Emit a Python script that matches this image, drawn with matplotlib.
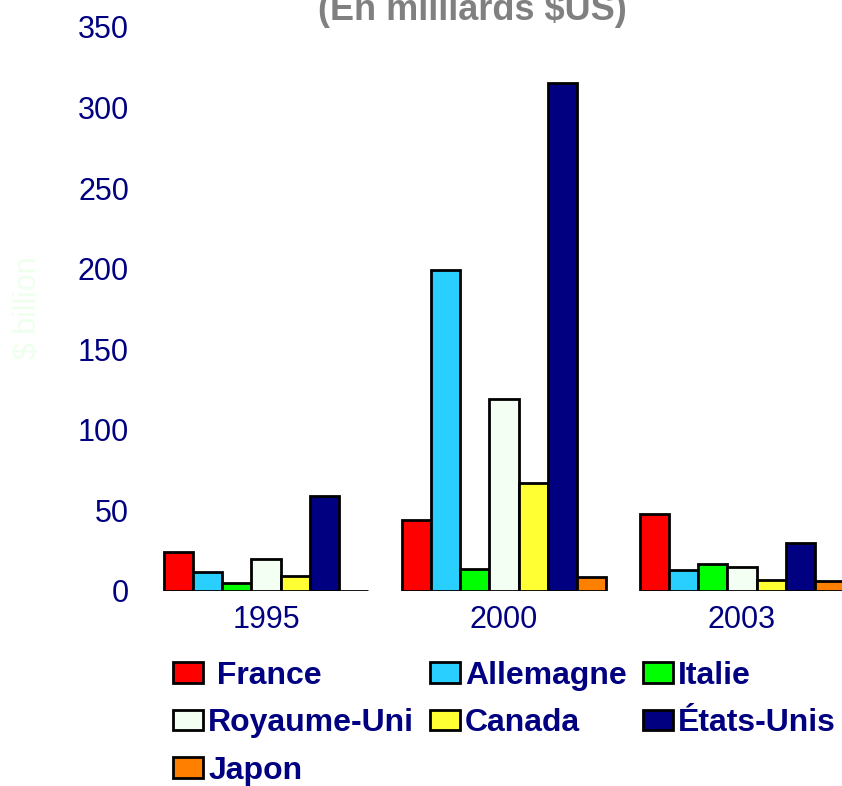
import matplotlib
matplotlib.use("Agg")
import matplotlib.pyplot as plt
import numpy as np
from matplotlib.patches import Patch

plt.rcParams['font.family'] = ['Liberation Sans', 'DejaVu Sans']

years = ["1995", "2000", "2003"]
countries = ["France", "Allemagne", "Italie", "Royaume-Uni", "Canada", "États-Unis", "Japon"]
legend_labels = [" France", "Allemagne", "Italie", "Royaume-Uni", "Canada", "États-Unis", "Japon"]
colors = ["#FF0000", "#29CFFF", "#00FF00", "#F3FFF3", "#FFFF33", "#000080", "#FF8000"]

france = [24, 44, 48]
allemagne = [12, 199, 13]
italie = [5, 13.5, 17]
royaume_uni = [20, 119, 15]
canada = [9.5, 67, 7]
etats_unis = [59, 315, 30]
japon = [0, 8.5, 6.5]
values = [france, allemagne, italie, royaume_uni, canada, etats_unis, japon]

yticks = [0, 50, 100, 150, 200, 250, 300, 350]

fig = plt.figure(figsize=(8.42, 7.86), dpi=100)
ax = fig.add_axes([147/842, 1-591/786, 714/842, 564/786])

x = np.arange(len(years))
w = 0.857 / 7
for i, (vals, c) in enumerate(zip(values, colors)):
    ax.bar(x + (i - 3) * w, vals, width=w, color=c, edgecolor="black", linewidth=2.0, zorder=3)

ax.set_xlim(-0.5, 2.5)
ax.set_ylim(0, 350)
ax.set_yticks(yticks)
ax.set_xticks(x)
ax.set_xticklabels(years)
ax.tick_params(axis='both', length=0, colors="#000080", labelsize=22)
ax.tick_params(axis='y', pad=13)
ax.tick_params(axis='x', pad=10)
for s in ax.spines.values():
    s.set_visible(False)

fig.text(28/842, 1-308/786, "$ billion", rotation=90, ha='center', va='center',
         color="#EEFFEE", fontsize=22)
fig.text(472/842, 1-20/786, "(En milliards $US)", ha='center', va='baseline',
         color="#808080", fontsize=26, fontweight='bold')

handles = [Patch(facecolor=c, edgecolor="black", linewidth=2.0) for c in colors]
order = [0, 3, 6, 1, 4, 2, 5]
leg = fig.legend([handles[i] for i in order], [legend_labels[i] for i in order],
                 ncol=3, loc='upper left', bbox_to_anchor=(173/842, 1-661/786),
                 frameon=False, borderpad=0, borderaxespad=0,
                 handlelength=0.94, handleheight=0.63, handletextpad=0.16,
                 columnspacing=0.5, labelspacing=0.54,
                 prop={'size': 23, 'weight': 'bold'})
for t in leg.get_texts():
    t.set_color("#000080")

fig.savefig("out.png", dpi=100)
